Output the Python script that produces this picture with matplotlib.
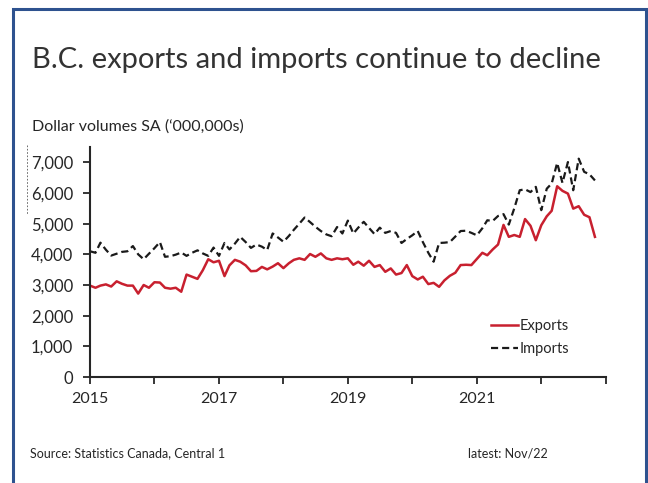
import matplotlib
matplotlib.use("Agg")
import matplotlib.pyplot as plt
from matplotlib.patches import Rectangle
import pandas as pd

# monthly data, Jan 2015 - Nov 2022 ($ millions, SA)
months = pd.date_range("2015-01-01", periods=95, freq="MS")

exports = [
    2980, 2910, 2980, 3020, 2950, 3120, 3040, 2980, 2980, 2720,
    3000, 2910, 3090, 3080, 2910, 2880, 2910, 2780, 3340, 3270,
    3200, 3480, 3840, 3740, 3790, 3290, 3640, 3820, 3760, 3640,
    3450, 3460, 3590, 3510, 3600, 3710, 3550, 3710, 3820, 3870,
    3820, 4010, 3920, 4030, 3870, 3820, 3870, 3840, 3870, 3660,
    3760, 3630, 3790, 3590, 3650, 3430, 3540, 3340, 3390, 3650,
    3290, 3180, 3270, 3030, 3070, 2940, 3150, 3300, 3400, 3650,
    3660, 3650, 3850, 4050, 3970, 4160, 4320, 4960, 4570, 4630,
    4570, 5150, 4930, 4460, 4950, 5240, 5420, 6220, 6070, 5980,
    5490, 5570, 5290, 5210, 4570,
]

imports = [
    4100, 4050, 4380, 4150, 3960, 4020, 4080, 4100, 4270, 4000,
    3840, 4020, 4200, 4400, 3920, 3940, 3990, 4060, 3950, 4050,
    4130, 4030, 3950, 4220, 3950, 4370, 4160, 4350, 4570, 4400,
    4210, 4320, 4250, 4140, 4680, 4550, 4410, 4600, 4800, 5000,
    5200, 5050, 4900, 4760, 4650, 4590, 4890, 4680, 5100, 4680,
    4870, 5060, 4860, 4660, 4870, 4700, 4760, 4700, 4370, 4500,
    4620, 4760, 4400, 4050, 3760, 4370, 4380, 4400, 4580, 4760,
    4770, 4700, 4620, 4850, 5110, 5090, 5250, 5310, 4970, 5500,
    6090, 6120, 6030, 6200, 5440, 6140, 6310, 6980, 6330, 7010,
    6090, 7120, 6690, 6610, 6410,
]

year_ticks = [2015, 2016, 2017, 2018, 2019, 2020, 2021, 2022, 2023]
year_labels = ["2015", "", "2017", "", "2019", "", "2021", "", ""]
y_ticks = [0, 1000, 2000, 3000, 4000, 5000, 6000, 7000]

plt.rcParams["font.family"] = ["Lato", "DejaVu Sans"]
txt = "#262626"

fig = plt.figure(figsize=(6.48, 4.83), dpi=100)
ax = fig.add_axes([90 / 648, 1 - 377 / 483, (605.7 - 90) / 648, (377 - 147) / 483])

ax.plot(months, exports, color="#c8202f", lw=1.8, label="Exports")
ax.plot(months, imports, color="#1a1a1a", lw=1.6, ls=(0, (3.2, 1.8)), label="Imports")

ax.set_xlim(pd.Timestamp("2015-01-01"), pd.Timestamp("2023-01-01"))
ax.set_ylim(0, 7500)
ax.set_xticks([pd.Timestamp(f"{y}-01-01") for y in year_ticks])
ax.set_xticklabels(year_labels)
ax.set_yticks(y_ticks)
ax.set_yticklabels([f"{v:,}" for v in y_ticks])

for s in ["top", "right"]:
    ax.spines[s].set_visible(False)
for s in ["left", "bottom"]:
    ax.spines[s].set_linewidth(1.5)
    ax.spines[s].set_color(txt)
ax.tick_params(axis="both", direction="out", length=5, width=1.3, color=txt,
               labelsize=11.5, labelcolor=txt)
ax.tick_params(axis="y", pad=7, labelsize=12)
ax.tick_params(axis="x", pad=6)

leg = ax.legend(loc="lower right", bbox_to_anchor=(0.955, 0.035), frameon=False,
                fontsize=10.5, handlelength=1.9, handletextpad=0.1,
                labelspacing=0.6)
for t in leg.get_texts():
    t.set_color(txt)

fig.text(32 / 648, 1 - 60 / 483, "B.C. exports and imports continue to decline",
         fontsize=21, color="#333333", va="center")
fig.text(32 / 648, 1 - 127 / 483, "Dollar volumes SA (\u2018000,000s)",
         fontsize=11.5, color=txt, va="center")
fig.text(30 / 648, 1 - 453 / 483, "Source: Statistics Canada, Central 1",
         fontsize=9, color=txt, va="center")
fig.text(468 / 648, 1 - 453 / 483, "latest: Nov/22",
         fontsize=9, color=txt, va="center")

# frame around the graphic
fig.patches.append(Rectangle((13 / 648, -0.05), (646 - 13) / 648, 1 - 9 / 483 + 0.05,
                             transform=fig.transFigure, fill=False,
                             edgecolor="#2e528f", lw=2.2))
# faint dotted mark at the left
fig.add_artist(plt.Line2D([27 / 648, 27 / 648], [1 - 145 / 483, 1 - 215 / 483],
                          transform=fig.transFigure, color="#555555", lw=0.6,
                          ls=(0, (2, 2))))

fig.savefig("out.png", dpi=100)
